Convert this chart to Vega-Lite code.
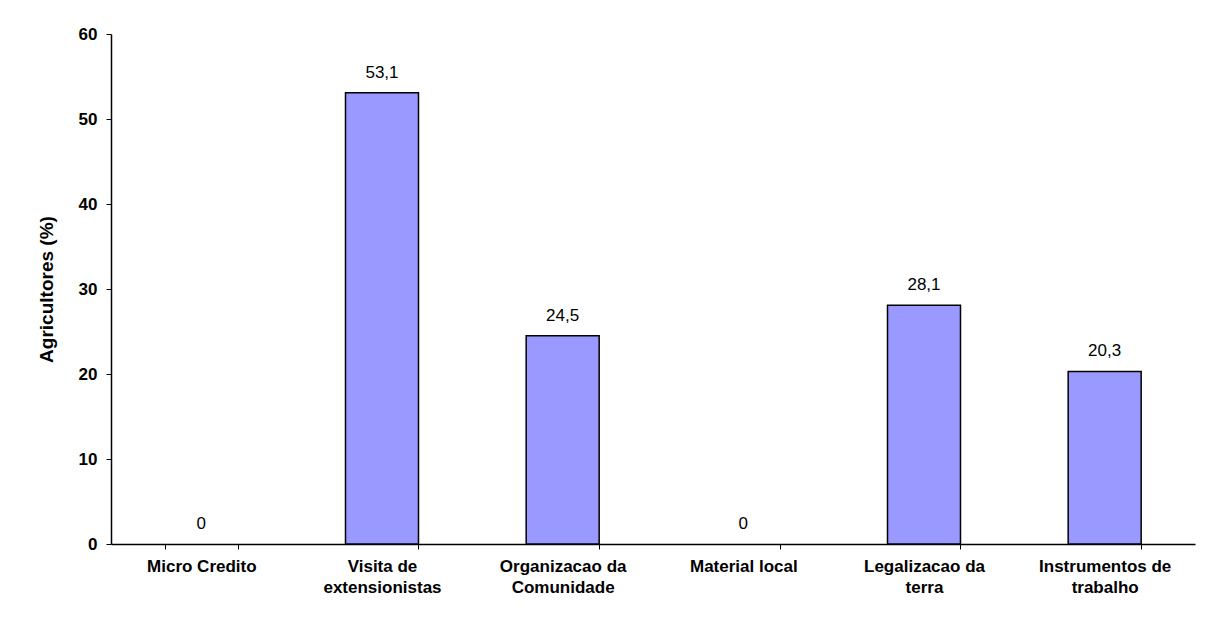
{
  "$schema": "https://vega.github.io/schema/vega-lite/v6.json",
  "width": 1084,
  "height": 510,
  "autosize": {"type": "none"},
  "padding": {"left": 111, "top": 34, "right": 11, "bottom": 75},
  "background": "white",
  "config": {
    "view": {"stroke": null},
    "font": "Liberation Sans",
    "locale": {"number": {"decimal": ",", "thousands": ".", "grouping": [3], "currency": ["", ""]}}
  },
  "data": {
    "values": [
      {"categoria": "Micro Credito", "valor": 0},
      {"categoria": "Visita de extensionistas", "valor": 53.1},
      {"categoria": "Organizacao da Comunidade", "valor": 24.5},
      {"categoria": "Material local", "valor": 0},
      {"categoria": "Legalizacao da terra", "valor": 28.1},
      {"categoria": "Instrumentos de trabalho", "valor": 20.3}
    ]
  },
  "encoding": {
    "x": {
      "field": "categoria",
      "type": "nominal",
      "sort": null,
      "scale": {"paddingInner": 0.596, "paddingOuter": 0.298},
      "axis": {
        "title": null,
        "labelAngle": 0,
        "labelFont": "Liberation Sans",
        "labelFontWeight": "bold",
        "labelFontSize": 17,
        "labelColor": "black",
        "labelPadding": 9,
        "labelLineHeight": 21,
        "labelExpr": "length(datum.label) > 14 ? [substring(datum.label, 0, lastindexof(datum.label, ' ')), substring(datum.label, lastindexof(datum.label, ' ') + 1)] : datum.label",
        "tickBand": "extent",
        "tickColor": "black",
        "tickSize": 5,
        "domainColor": "black",
        "domainWidth": 1.5
      }
    },
    "y": {
      "field": "valor",
      "type": "quantitative",
      "scale": {"domain": [0, 60], "nice": false},
      "axis": {
        "title": "Agricultores (%)",
        "titleFont": "Liberation Sans",
        "titleFontSize": 19,
        "titleFontWeight": "bold",
        "titleColor": "black",
        "titlePadding": 22,
        "values": [0, 10, 20, 30, 40, 50, 60],
        "grid": false,
        "labelFont": "Liberation Sans",
        "labelFontWeight": "bold",
        "labelFontSize": 17,
        "labelColor": "black",
        "labelPadding": 9,
        "tickColor": "black",
        "tickSize": 5,
        "domainColor": "black",
        "domainWidth": 1.5
      }
    }
  },
  "layer": [
    {
      "mark": {"type": "bar", "color": "#9999FF", "stroke": "black", "strokeWidth": 1.5},
      "encoding": {
        "strokeOpacity": {"condition": {"test": "datum.valor > 0", "value": 1}, "value": 0}
      }
    },
    {
      "mark": {"type": "text", "dy": -20, "fontSize": 17, "font": "Liberation Sans", "color": "black"},
      "encoding": {
        "text": {"field": "valor", "type": "quantitative", "format": ".1~f"}
      }
    }
  ]
}
